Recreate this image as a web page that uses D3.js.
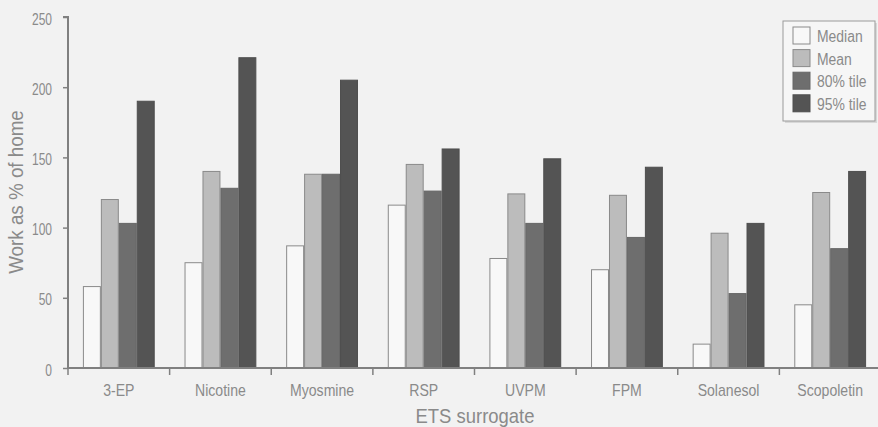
<!DOCTYPE html>
<html><head><meta charset="utf-8">
<script src="https://cdn.jsdelivr.net/npm/d3@7"></script>
<style>
html,body{margin:0;padding:0;background:#f2f2f2;}
svg{display:block;}
text{font-family:"Liberation Sans",Arial,sans-serif;fill:#8a8a8a;}
</style></head><body>
<svg id="chart" width="878" height="427"></svg>
<script>
const categories = ["3-EP","Nicotine","Myosmine","RSP","UVPM","FPM","Solanesol","Scopoletin"];
const seriesNames = ["Median","Mean","80% tile","95% tile"];
const median = [58, 75, 87, 116, 78, 70, 17, 45];
const mean = [120, 140, 138, 145, 124, 123, 96, 125];
const p80 = [103, 128, 138, 126, 103, 93, 53, 85];
const p95 = [190, 221, 205, 156, 149, 143, 103, 140];
const yTicks = [0, 50, 100, 150, 200, 250];
const seriesValues = [median, mean, p80, p95];
const fills = ["#f8f8f8", "#bcbcbc", "#6e6e6e", "#545454"];
const strokes = ["#8a8a8a", "#8a8a8a", "#666666", "#4e4e4e"];

const svg = d3.select("#chart");
const x0 = 68, x1 = 881, yBottom = 368, yTop = 17;
const x = d3.scaleBand().domain(categories).range([x0, x1]).paddingInner(0).paddingOuter(0);
const xs = d3.scaleBand().domain(seriesNames).range([0, x.bandwidth()]).paddingOuter(0.83).paddingInner(0);
const y = d3.scaleLinear().domain([0, 250]).range([yBottom, yTop]);

// bars
const groups = svg.append("g").selectAll("g").data(categories).join("g")
  .attr("transform", d => `translate(${x(d)},0)`);
groups.selectAll("rect").data((c, i) => seriesNames.map((s, k) => ({s, k, v: seriesValues[k][i]})))
  .join("rect")
  .attr("x", d => xs(d.s) + 0.5)
  .attr("y", d => y(d.v))
  .attr("width", xs.bandwidth() - 1)
  .attr("height", d => yBottom - y(d.v))
  .attr("fill", d => fills[d.k])
  .attr("stroke", d => strokes[d.k])
  .attr("stroke-width", 1);

// y axis
const yAxis = d3.axisLeft(y).tickValues(yTicks).tickSize(5).tickPadding(0);
const gy = svg.append("g").attr("transform", `translate(${x0},0)`).call(yAxis);
gy.select(".domain").attr("stroke", "#808080").attr("stroke-width", 2).attr("d", `M-5,${yTop}H0V${yBottom}`);
gy.selectAll(".tick line").attr("stroke", "#808080").attr("stroke-width", 1.5);
gy.selectAll(".tick text").attr("x", 0).attr("dy", null)
  .attr("transform", "translate(-16,7) scale(0.75,1)")
  .attr("fill", "#8a8a8a").style("font-size", "16px").style("font-family", '"Liberation Sans",Arial,sans-serif');

// x axis
const gx = svg.append("g").attr("transform", `translate(0,${yBottom})`);
gx.append("line").attr("x1", x0).attr("x2", 878).attr("y1", 0).attr("y2", 0).attr("stroke", "#808080").attr("stroke-width", 2);
gx.selectAll(".tk").data(categories).join("line").attr("class", "tk")
  .attr("x1", d => x(d)).attr("x2", d => x(d)).attr("y1", 0).attr("y2", 7)
  .attr("stroke", "#808080").attr("stroke-width", 1.5);
gx.selectAll(".lbl").data(categories).join("text").attr("class", "lbl")
  .attr("transform", d => `translate(${x(d) + x.bandwidth() / 2},28) scale(0.88,1)`)
  .attr("text-anchor", "middle").style("font-size", "16px").text(d => d);

// axis titles
svg.append("text").attr("transform", "translate(475,423) scale(0.9,1)").attr("text-anchor", "middle")
  .style("font-size", "20.5px").text("ETS surrogate");
svg.append("text").attr("transform", "translate(23,192) rotate(-90) scale(0.94,1)").attr("text-anchor", "middle")
  .style("font-size", "20px").text("Work as % of home");

// legend
const lg = svg.append("g").attr("transform", "translate(783,21)");
lg.append("rect").attr("x", 2).attr("y", 2).attr("width", 92).attr("height", 100).attr("fill", "#d8d8d8");
lg.append("rect").attr("x", 0).attr("y", 0).attr("width", 92).attr("height", 100)
  .attr("fill", "#f6f6f6").attr("stroke", "#9a9a9a").attr("stroke-width", 1);
const li = lg.selectAll(".li").data(seriesNames).join("g").attr("class", "li")
  .attr("transform", (d, i) => `translate(10,${6 + i * 22.6})`);
li.append("rect").attr("width", 17).attr("height", 17)
  .attr("fill", (d, i) => fills[i]).attr("stroke", (d, i) => strokes[i]);
li.append("text").attr("transform", "translate(24,15) scale(0.87,1)").style("font-size", "16px").text(d => d);
</script>
</body></html>
